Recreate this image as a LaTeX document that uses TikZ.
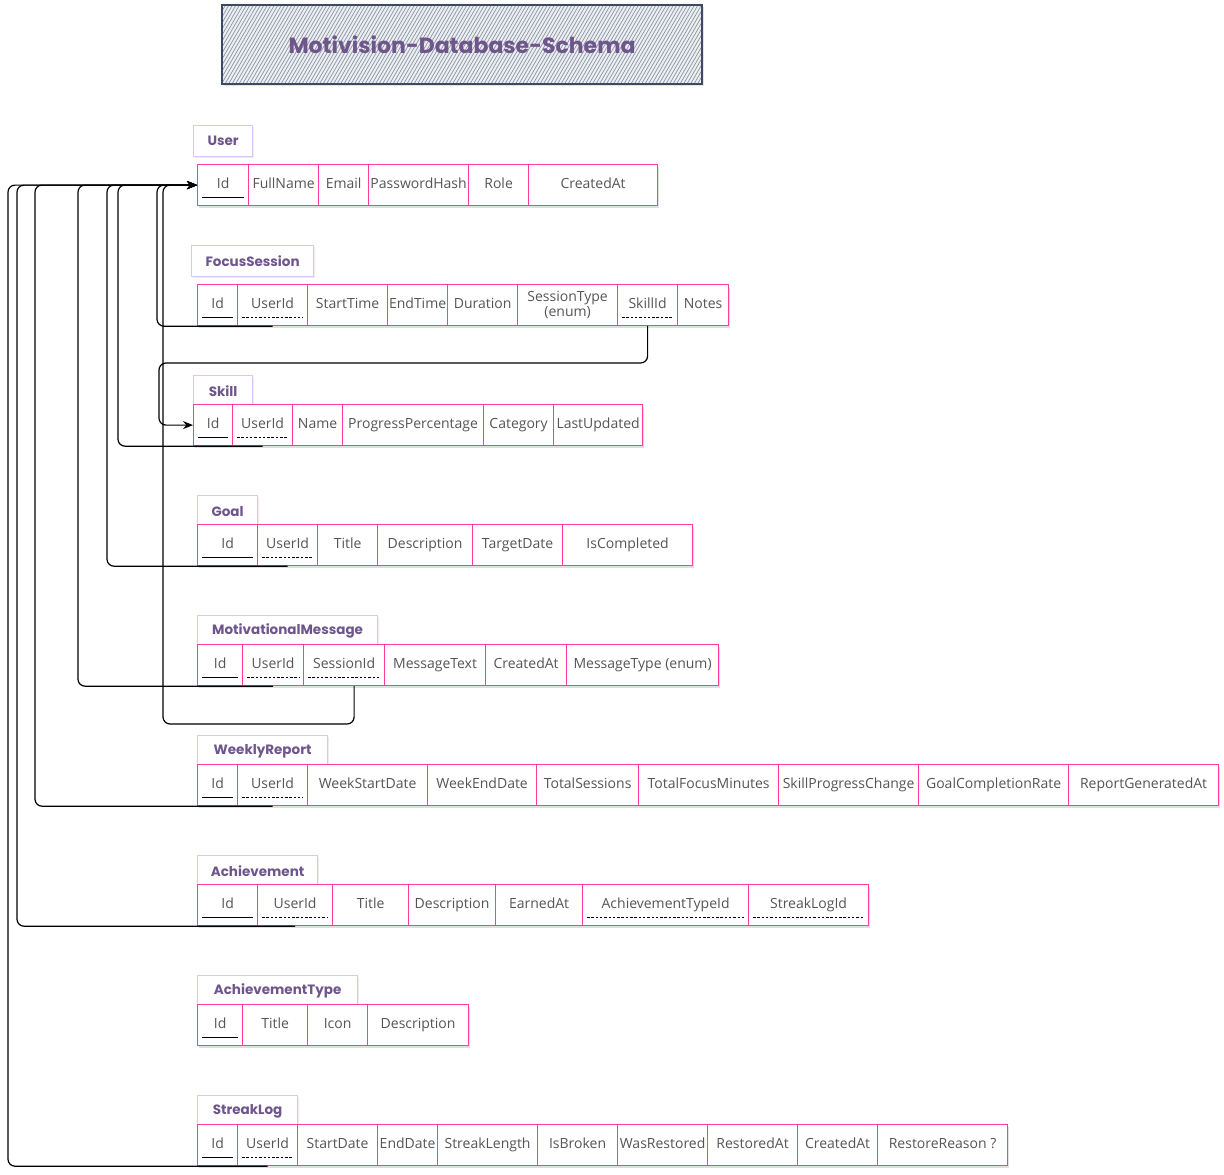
\documentclass[tikz,border=0pt]{standalone}
\usepackage{fontspec}
\setmainfont{Open Sans}
\newfontfamily\headfont{Poppins}
\usetikzlibrary{shadows,arrows.meta}

\definecolor{cellpink}{RGB}{255,60,160}
\definecolor{lblline}{RGB}{218,198,252}
\definecolor{lbltext}{RGB}{110,85,140}
\definecolor{celltext}{RGB}{85,85,85}
\definecolor{slate}{RGB}{60,75,95}
\definecolor{hatchc}{RGB}{140,150,162}
\definecolor{hatchbg}{RGB}{236,238,241}

\tikzset{
  cell/.style={draw=cellpink, line width=1.2pt, fill=white, inner sep=0pt,
    minimum height=41pt, anchor=north west, text=celltext,
    font=\fontsize{14}{14.5}\selectfont, align=center},
  oneline/.style={text height=10.5pt, text depth=3pt},
  lbl/.style={draw=lblline, line width=1.2pt, fill=white, inner sep=0pt,
    minimum height=31pt, anchor=north west, text=lbltext,
    font=\headfont\bfseries\fontsize{13.5}{15}\selectfont,
    drop shadow={opacity=0.15, shadow xshift=1.5pt, shadow yshift=-1.5pt}},
  rowshadow/.style={fill=white,
    drop shadow={opacity=0.25, shadow xshift=2pt, shadow yshift=-2.5pt}},
  pk/.style={black, line width=0.9pt},
  fk/.style={black, line width=0.9pt, dash pattern=on 2.5pt off 1.8pt},
  conn/.style={black, line width=1.2pt, rounded corners=7pt},
  tip/.style={-{Stealth[length=10pt,width=8pt]}},
  titlebox/.style={draw=slate, line width=1.2pt, fill=hatchbg, inner sep=0pt,
    minimum width=480pt, minimum height=79pt,
    drop shadow={opacity=0.2, shadow xshift=2pt, shadow yshift=-2pt},
    path picture={
      \foreach \i in {-60,-56.5,...,540}
        \draw[hatchc, line width=0.7pt]
          ([xshift=\i pt]path picture bounding box.south west) -- ++(46pt,79pt);
    }},
  titletext/.style={text=lbltext, font=\headfont\bfseries\fontsize{22}{26}\selectfont},
}

% one table cell: name, left x, right x, top y, text
\newcommand\ecell[5]{\node[cell, oneline, minimum width={#3-#2}] (#1) at (#2,#4) {#5};}
% a cell whose text takes two lines
\newcommand\ecellii[5]{\node[cell, minimum width={#3-#2}] (#1) at (#2,#4) {#5};}
% table title: name, left x, right x, top y, text
\newcommand\elabel[5]{\node[lbl, minimum width={#3-#2}] (#1) at (#2,#4) {#5};}
% white backing with shadow for a row: left x, right x, top y
\newcommand\rowbg[3]{\path[rowshadow] (#1,#3) rectangle (#2,{#3+41});}
% key markers under a cell text
\newcommand\pkmark[1]{\draw[pk] ([xshift=5pt,yshift=9pt]#1.south west) -- ([xshift=-5pt,yshift=9pt]#1.south east);}
\newcommand\fkmark[1]{\draw[fk] ([xshift=5pt,yshift=9pt]#1.south west) -- ([xshift=-5pt,yshift=9pt]#1.south east);}

\begin{document}
\begin{tikzpicture}[x=1pt,y=-1pt]
\useasboundingbox[fill=white] (0,0) rectangle (1224,1175);

% heading
\node[titlebox] (title) at (462,44.5) {};
\node[titletext] (titlelbl) at (title.center) {Motivision-Database-Schema};

% User
\elabel{userLbl}{193}{252}{125}{User}
\rowbg{197}{657}{164}
\ecell{uId}{197}{248}{164}{Id}
\ecell{uName}{248}{318}{164}{FullName}
\ecell{uEmail}{318}{368}{164}{Email}
\ecell{uPass}{368}{468}{164}{PasswordHash}
\ecell{uRole}{468}{528}{164}{Role}
\ecell{uCreated}{528}{657}{164}{CreatedAt}
\pkmark{uId}

% FocusSession
\elabel{fsLbl}{191}{313}{245}{FocusSession}
\rowbg{197}{728}{284}
\ecell{fsId}{197}{237}{284}{Id}
\ecell{fsUid}{237}{307}{284}{UserId}
\ecell{fsStart}{307}{387}{284}{StartTime}
\ecell{fsEnd}{387}{447}{284}{EndTime}
\ecell{fsDur}{447}{517}{284}{Duration}
\ecellii{fsType}{517}{617}{284}{SessionType\\(enum)}
\ecell{fsSkill}{617}{677}{284}{SkillId}
\ecell{fsNotes}{677}{728}{284}{Notes}
\pkmark{fsId}\fkmark{fsUid}\fkmark{fsSkill}

% Skill
\elabel{sLbl}{193}{252}{375}{Skill}
\rowbg{193}{642}{404}
\ecell{sId}{193}{232}{404}{Id}
\ecell{sUid}{232}{292}{404}{UserId}
\ecell{sName}{292}{342}{404}{Name}
\ecell{sProg}{342}{483}{404}{ProgressPercentage}
\ecell{sCat}{483}{553}{404}{Category}
\ecell{sUpd}{553}{642}{404}{LastUpdated}
\pkmark{sId}\fkmark{sUid}

% Goal
\elabel{gLbl}{197}{257}{495}{Goal}
\rowbg{197}{692}{524}
\ecell{gId}{197}{257}{524}{Id}
\ecell{gUid}{257}{317}{524}{UserId}
\ecell{gTitle}{317}{377}{524}{Title}
\ecell{gDesc}{377}{472}{524}{Description}
\ecell{gTarget}{472}{562}{524}{TargetDate}
\ecell{gDone}{562}{692}{524}{IsCompleted}
\pkmark{gId}\fkmark{gUid}

% MotivationalMessage
\elabel{mLbl}{197}{377}{615}{MotivationalMessage}
\rowbg{197}{718}{644}
\ecell{mId}{197}{242}{644}{Id}
\ecell{mUid}{242}{303}{644}{UserId}
\ecell{mSid}{303}{384}{644}{SessionId}
\ecell{mText}{384}{485}{644}{MessageText}
\ecell{mCreated}{485}{566}{644}{CreatedAt}
\ecell{mType}{566}{718}{644}{MessageType (enum)}
\pkmark{mId}\fkmark{mUid}\fkmark{mSid}

% WeeklyReport
\elabel{wLbl}{197}{327}{735}{WeeklyReport}
\rowbg{197}{1218}{764}
\ecell{wId}{197}{237}{764}{Id}
\ecell{wUid}{237}{307}{764}{UserId}
\ecell{wStart}{307}{427}{764}{WeekStartDate}
\ecell{wEnd}{427}{536}{764}{WeekEndDate}
\ecell{wSess}{536}{638}{764}{TotalSessions}
\ecell{wMin}{638}{778}{764}{TotalFocusMinutes}
\ecell{wSkill}{778}{918}{764}{SkillProgressChange}
\ecell{wGoal}{918}{1068}{764}{GoalCompletionRate}
\ecell{wGen}{1068}{1218}{764}{ReportGeneratedAt}
\pkmark{wId}\fkmark{wUid}

% Achievement
\elabel{aLbl}{197}{317}{855}{Achievement}
\rowbg{197}{868}{884}
\ecell{aId}{197}{257}{884}{Id}
\ecell{aUid}{257}{332}{884}{UserId}
\ecell{aTitle}{332}{408}{884}{Title}
\ecell{aDesc}{408}{495}{884}{Description}
\ecell{aEarn}{495}{582}{884}{EarnedAt}
\ecell{aType}{582}{748}{884}{AchievementTypeId}
\ecell{aStreak}{748}{868}{884}{StreakLogId}
\pkmark{aId}\fkmark{aUid}\fkmark{aType}\fkmark{aStreak}

% AchievementType
\elabel{tLbl}{197}{357}{975}{AchievementType}
\rowbg{197}{468}{1004}
\ecell{tId}{197}{242}{1004}{Id}
\ecell{tTitle}{242}{307}{1004}{Title}
\ecell{tIcon}{307}{367}{1004}{Icon}
\ecell{tDesc}{367}{468}{1004}{Description}
\pkmark{tId}

% StreakLog
\elabel{lLbl}{197}{297}{1095}{StreakLog}
\rowbg{197}{1007}{1124}
\ecell{lId}{197}{237}{1124}{Id}
\ecell{lUid}{237}{297}{1124}{UserId}
\ecell{lStart}{297}{377}{1124}{StartDate}
\ecell{lEnd}{377}{437}{1124}{EndDate}
\ecell{lLen}{437}{537}{1124}{StreakLength}
\ecell{lBroken}{537}{617}{1124}{IsBroken}
\ecell{lWas}{617}{707}{1124}{WasRestored}
\ecell{lRest}{707}{797}{1124}{RestoredAt}
\ecell{lCreated}{797}{877}{1124}{CreatedAt}
\ecell{lReason}{877}{1007}{1124}{RestoreReason ?}
\pkmark{lId}\fkmark{lUid}

% lanes of the connectors on the left
\coordinate (xFs) at (157,0);
\coordinate (xSk) at (118,0);
\coordinate (xGo) at (107,0);
\coordinate (xMm) at (78,0);
\coordinate (xSe) at (163,0);
\coordinate (xWr) at (35,0);
\coordinate (xAc) at (17,0);
\coordinate (xSl) at (8,0);
\coordinate (xSkill) at (159,0);
\coordinate (ySe) at (0,724);
\coordinate (ySkill) at (0,363);

% foreign keys to User.Id
\draw[conn,tip] (fsUid.south) -| (xFs |- uId.west) -- (uId.west);
\draw[conn,tip] (sUid.south) -| (xSk |- uId.west) -- (uId.west);
\draw[conn,tip] (gUid.south) -| (xGo |- uId.west) -- (uId.west);
\draw[conn,tip] (mUid.south) -| (xMm |- uId.west) -- (uId.west);
\draw[conn,tip] ([xshift=10pt]mSid.south) |- (xSe |- ySe) -- (xSe |- uId.west) -- (uId.west);
\draw[conn,tip] (wUid.south) -| (xWr |- uId.west) -- (uId.west);
\draw[conn,tip] (aUid.south) -| (xAc |- uId.west) -- (uId.west);
\draw[conn,tip] (lUid.south) -| (xSl |- uId.west) -- (uId.west);

% FocusSession.SkillId to Skill.Id
\draw[conn,tip] (fsSkill.south) |- (xSkill |- ySkill) |- (sId.west);

\end{tikzpicture}
\end{document}
